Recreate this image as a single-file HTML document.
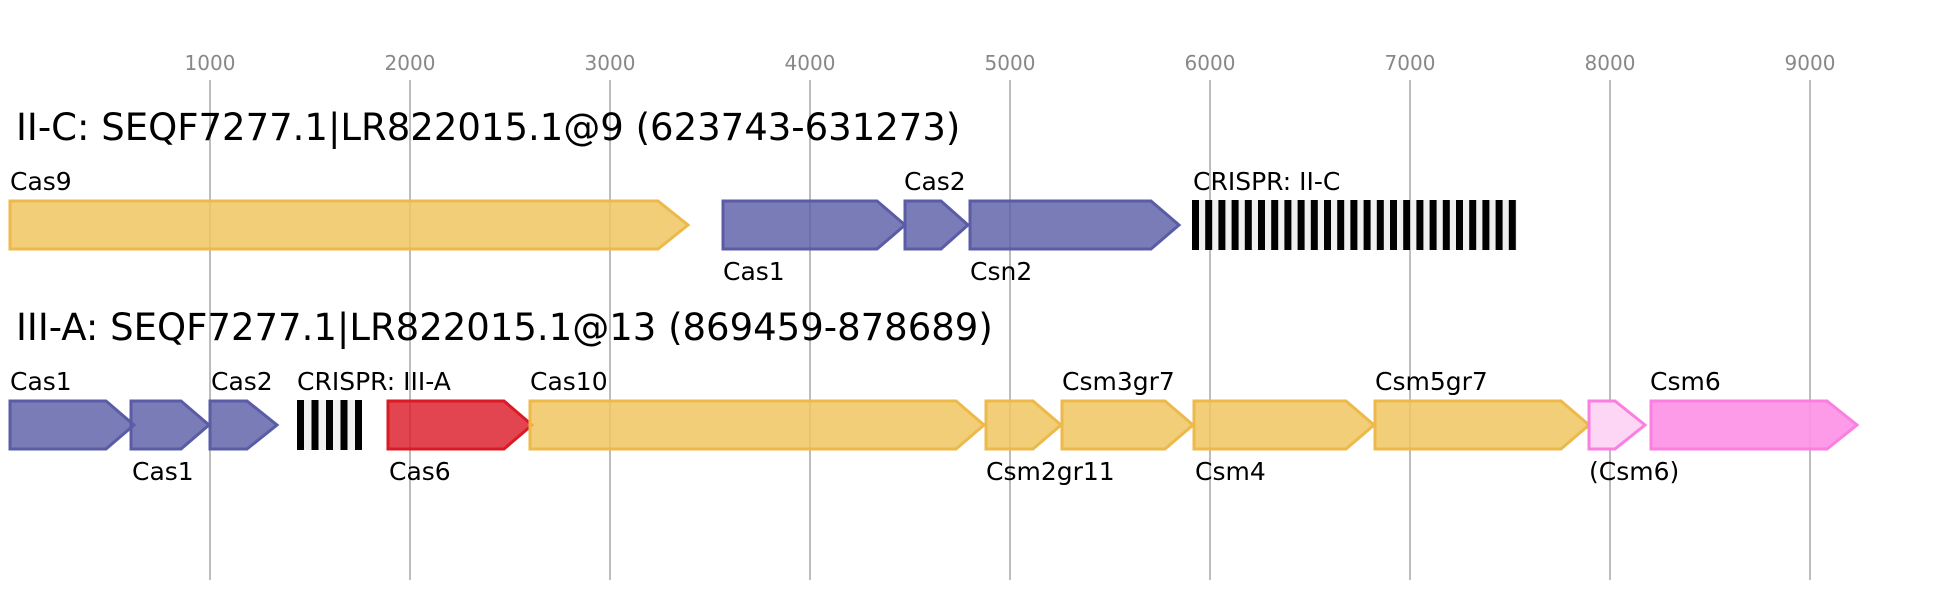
<!DOCTYPE html>
<html><head><meta charset="utf-8"><style>
html,body{margin:0;padding:0;background:#fff;}
svg{display:block;font-family:"DejaVu Sans","Liberation Sans",sans-serif;}
</style></head><body>
<svg width="1946" height="600" viewBox="0 0 1946 600" xmlns="http://www.w3.org/2000/svg">
<g stroke="#bdbdbd" stroke-width="2">
<line x1="210" y1="80" x2="210" y2="580"/><line x1="410" y1="80" x2="410" y2="580"/>
<line x1="610" y1="80" x2="610" y2="580"/><line x1="810" y1="80" x2="810" y2="580"/>
<line x1="1010" y1="80" x2="1010" y2="580"/><line x1="1210" y1="80" x2="1210" y2="580"/>
<line x1="1410" y1="80" x2="1410" y2="580"/><line x1="1610" y1="80" x2="1610" y2="580"/>
<line x1="1810" y1="80" x2="1810" y2="580"/>
</g>
<g fill="#888" font-size="20" text-anchor="middle">
<text x="210" y="70">1000</text><text x="410" y="70">2000</text><text x="610" y="70">3000</text>
<text x="810" y="70">4000</text><text x="1010" y="70">5000</text><text x="1210" y="70">6000</text>
<text x="1410" y="70">7000</text><text x="1610" y="70">8000</text><text x="1810" y="70">9000</text>
</g>
<text x="16" y="140" font-size="37" fill="#000">II-C: SEQF7277.1|LR822015.1@9 (623743-631273)</text>
<text x="16" y="340" font-size="37" fill="#000">III-A: SEQF7277.1|LR822015.1@13 (869459-878689)</text>
<g stroke-width="3" stroke-linejoin="miter">
<!-- row 1 -->
<polygon points="10,201 658,201 688,225 658,249 10,249" fill="#f0c661" fill-opacity="0.85" stroke="#ecb94a"/>
<polygon points="723,201 877,201 905,225 877,249 723,249" fill="#5d5fa8" fill-opacity="0.82" stroke="#5a5ca6"/>
<polygon points="905,201 941,201 968,225 941,249 905,249" fill="#5d5fa8" fill-opacity="0.82" stroke="#5a5ca6"/>
<polygon points="970,201 1151,201 1179,225 1151,249 970,249" fill="#5d5fa8" fill-opacity="0.82" stroke="#5a5ca6"/>
<!-- row 2 -->
<polygon points="10,401 106,401 134,425 106,449 10,449" fill="#5d5fa8" fill-opacity="0.82" stroke="#5a5ca6"/>
<polygon points="131,401 181,401 209,425 181,449 131,449" fill="#5d5fa8" fill-opacity="0.82" stroke="#5a5ca6"/>
<polygon points="210,401 247,401 277,425 247,449 210,449" fill="#5d5fa8" fill-opacity="0.82" stroke="#5a5ca6"/>
<polygon points="388,401 504,401 532,425 504,449 388,449" fill="#dd1c2a" fill-opacity="0.82" stroke="#da1a25"/>
<polygon points="530,401 956,401 984,425 956,449 530,449" fill="#f0c661" fill-opacity="0.85" stroke="#ecb94a"/>
<polygon points="986,401 1033,401 1061,425 1033,449 986,449" fill="#f0c661" fill-opacity="0.85" stroke="#ecb94a"/>
<polygon points="1062,401 1165,401 1193,425 1165,449 1062,449" fill="#f0c661" fill-opacity="0.85" stroke="#ecb94a"/>
<polygon points="1194,401 1346,401 1374,425 1346,449 1194,449" fill="#f0c661" fill-opacity="0.85" stroke="#ecb94a"/>
<polygon points="1375,401 1561,401 1589,425 1561,449 1375,449" fill="#f0c661" fill-opacity="0.85" stroke="#ecb94a"/>
<polygon points="1589,401 1615,401 1645,425 1615,449 1589,449" fill="#fcd6f4" stroke="#fa7fe0"/>
<polygon points="1651,401 1827,401 1857,425 1827,449 1651,449" fill="#fd90e6" fill-opacity="0.9" stroke="#fa7fe0"/>
</g>
<!-- CRISPR arrays -->
<rect x="1192" y="200" width="325" height="50" fill="#f0f0f0"/>
<g fill="#000" id="cr1"></g>
<rect x="297" y="400" width="65" height="50" fill="#f0f0f0"/>
<g fill="#000">
<rect x="297" y="400" width="7" height="50"/><rect x="311.5" y="400" width="7" height="50"/>
<rect x="326" y="400" width="7" height="50"/><rect x="340.5" y="400" width="7" height="50"/>
<rect x="355" y="400" width="7" height="50"/>
</g>
<g fill="#000">
<rect x="1192" y="200" width="7" height="50"/><rect x="1205.2" y="200" width="7" height="50"/>
<rect x="1218.4" y="200" width="7" height="50"/><rect x="1231.6" y="200" width="7" height="50"/>
<rect x="1244.8" y="200" width="7" height="50"/><rect x="1258" y="200" width="7" height="50"/>
<rect x="1271.2" y="200" width="7" height="50"/><rect x="1284.4" y="200" width="7" height="50"/>
<rect x="1297.6" y="200" width="7" height="50"/><rect x="1310.8" y="200" width="7" height="50"/>
<rect x="1324" y="200" width="7" height="50"/><rect x="1337.2" y="200" width="7" height="50"/>
<rect x="1350.4" y="200" width="7" height="50"/><rect x="1363.6" y="200" width="7" height="50"/>
<rect x="1376.8" y="200" width="7" height="50"/><rect x="1390" y="200" width="7" height="50"/>
<rect x="1403.2" y="200" width="7" height="50"/><rect x="1416.4" y="200" width="7" height="50"/>
<rect x="1429.6" y="200" width="7" height="50"/><rect x="1442.8" y="200" width="7" height="50"/>
<rect x="1456" y="200" width="7" height="50"/><rect x="1469.2" y="200" width="7" height="50"/>
<rect x="1482.4" y="200" width="7" height="50"/><rect x="1495.6" y="200" width="7" height="50"/>
<rect x="1508.8" y="200" width="7" height="50"/>
</g>
<g font-size="25" fill="#000">
<text x="10" y="190">Cas9</text>
<text x="904" y="190">Cas2</text>
<text x="1193" y="190">CRISPR: II-C</text>
<text x="723" y="280">Cas1</text>
<text x="970" y="280">Csn2</text>
<text x="10" y="390">Cas1</text>
<text x="211" y="390">Cas2</text>
<text x="297" y="390">CRISPR: III-A</text>
<text x="530" y="390">Cas10</text>
<text x="1062" y="390">Csm3gr7</text>
<text x="1375" y="390">Csm5gr7</text>
<text x="1650" y="390">Csm6</text>
<text x="132" y="480">Cas1</text>
<text x="389" y="480">Cas6</text>
<text x="986" y="480">Csm2gr11</text>
<text x="1195" y="480">Csm4</text>
<text x="1589" y="480">(Csm6)</text>
</g>
</svg>
</body></html>
